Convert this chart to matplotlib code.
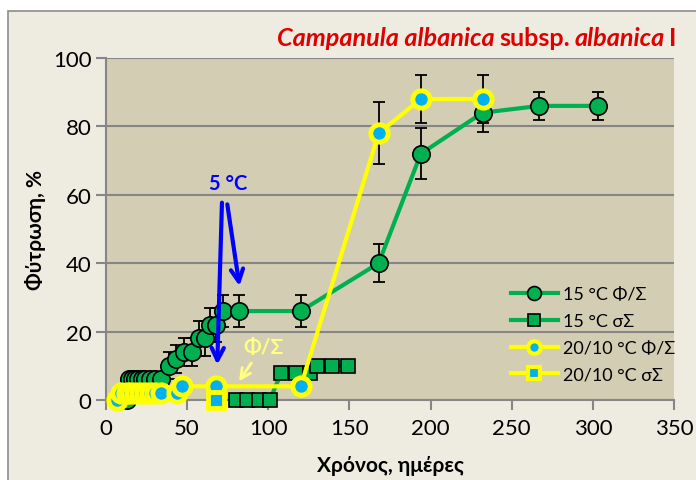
import matplotlib
matplotlib.use('Agg')
import matplotlib.pyplot as plt
from matplotlib.patches import Rectangle
from matplotlib.lines import Line2D

plt.rcParams['font.family'] = ['Lato', 'Noto Sans', 'DejaVu Sans']

# 15 °C, germination (Φ/Σ)
g15_days = [13, 14, 16, 18, 20, 22, 24, 27, 30, 34, 39, 43, 48, 53, 57, 61, 64, 68, 72, 82, 120, 168, 194, 232, 267, 303]
g15_pct = [0, 6, 6, 6, 6, 6, 6, 6, 6, 6, 10, 12, 14, 14, 18, 18, 22, 22, 26, 26, 26, 40, 72, 84, 86, 86]
g15_err = [0, 0, 0, 0, 0, 0, 0, 0, 0, 0, 4, 4, 4, 4, 5, 5, 5, 5, 4.7, 4.7, 4.7, 5.5, 7.5, 5.5, 4, 4]

# 15 °C, σΣ
s15_days = [80, 87, 94, 101, 108, 117, 126, 130, 139, 149]
s15_pct = [0, 0, 0, 0, 8, 8, 8, 10, 10, 10]

# 20/10 °C, germination (Φ/Σ)
g20_days = [7, 9, 13, 15, 18, 21, 24, 27, 30, 34, 44, 47, 68, 120, 168, 194, 232]
g20_pct = [0, 2, 2, 2, 2, 2, 2, 2, 2, 2, 2, 4, 4, 4, 78, 88, 88]
g20_err = [0, 0, 0, 0, 0, 0, 0, 0, 0, 0, 0, 0, 0, 0, 9, 7, 7]

# 20/10 °C, σΣ
s20_days = [68]
s20_pct = [0]

GREEN = '#00B050'
YELLOW = '#FFFF00'
BLUE = '#00B0F0'

W, H = 696, 481
fig = plt.figure(figsize=(W / 100, H / 100), dpi=100)
fig.patch.set_facecolor('white')
fig.patches.append(Rectangle((8 / W, -0.01), 1.0, (H - 12) / H + 0.01, transform=fig.transFigure,
                             facecolor='#EEECE1', edgecolor='#8C8C8C', lw=1.2, zorder=-10))

ax = fig.add_axes([106 / W, 1 - 401 / H, (674 - 106) / W, (401 - 59) / H])
ax.set_facecolor('#D3CDB4')
ax.set_xlim(0, 350)
ax.set_ylim(0, 100)
ax.set_xticks(range(0, 351, 50))
ax.set_yticks(range(0, 101, 20))
ax.grid(axis='y', color='#868686', lw=1.5, zorder=0)
ax.set_axisbelow(True)
for s in ['top', 'right']:
    ax.spines[s].set_visible(False)
for s in ['left', 'bottom']:
    ax.spines[s].set_color('#868686')
    ax.spines[s].set_linewidth(1.5)
ax.tick_params(colors='#868686', length=7, width=1.5, labelsize=16, labelcolor='black')
ax.tick_params(axis='x', pad=6)

# error bars below the markers
ax.errorbar(g15_days, g15_pct, yerr=g15_err, fmt='none', ecolor='black', elinewidth=1.3,
            capsize=4.5, capthick=1.3, zorder=2)
ax.errorbar(g20_days, g20_pct, yerr=g20_err, fmt='none', ecolor='black', elinewidth=1.3,
            capsize=4.5, capthick=1.3, zorder=2)

ax.plot(g15_days, g15_pct, color=GREEN, lw=3, marker='o', ms=12.5, mfc=GREEN, mec='black', mew=1.2,
        zorder=3, clip_on=False)
ax.plot(s15_days, s15_pct, color=GREEN, lw=3, marker='s', ms=10.5, mfc=GREEN, mec='black', mew=1.2,
        zorder=3, clip_on=False)
ax.plot(g20_days, g20_pct, color=YELLOW, lw=3, marker='o', ms=12.5, mfc=BLUE, mec=YELLOW, mew=3.5,
        zorder=4, clip_on=False)
ax.plot(s20_days, s20_pct, color=YELLOW, lw=3, marker='s', ms=11, mfc=BLUE, mec=YELLOW, mew=3.5,
        zorder=4, clip_on=False)

# annotations
ax.text(75, 63.5, '5 °C', color='#0000FF', fontsize=14.5, fontweight='bold', ha='center', va='center', zorder=6)
arrow_kw = dict(arrowstyle='->', color='#0000FF', lw=3, mutation_scale=22)
ax.annotate('', xy=(68.5, 9.5), xytext=(71.5, 58.5), arrowprops=arrow_kw, zorder=6)
ax.annotate('', xy=(82.5, 32.5), xytext=(74.5, 58), arrowprops=arrow_kw, zorder=6)
ax.text(97, 15.5, 'Φ/Σ', color='#FFFF80', fontsize=15, fontweight='bold', ha='center', va='center', zorder=6)
ax.annotate('', xy=(81, 4.8), xytext=(90.5, 11.5),
            arrowprops=dict(arrowstyle='->', color='#FFFF80', lw=2, mutation_scale=18), zorder=6)

ax.set_xlabel('Χρόνος, ημέρες', fontsize=15, fontweight='bold', va='center')
ax.set_ylabel('Φύτρωση, %', fontsize=15, fontweight='bold', va='center')
ax.xaxis.set_label_coords(0.5, (401 - 466) / 342)
ax.yaxis.set_label_coords((36 - 106) / 568, 0.5)

# legend
handles = [
    Line2D([], [], color=GREEN, lw=3, marker='o', ms=10, mfc=GREEN, mec='black', mew=1.2),
    Line2D([], [], color=GREEN, lw=3, marker='s', ms=9, mfc=GREEN, mec='black', mew=1.2),
    Line2D([], [], color=YELLOW, lw=3, marker='o', ms=9, mfc=BLUE, mec=YELLOW, mew=3),
    Line2D([], [], color=YELLOW, lw=3, marker='s', ms=8.5, mfc=BLUE, mec=YELLOW, mew=3),
]
labels = ['15 °C Φ/Σ', '15 °C σΣ', '20/10 °C Φ/Σ', '20/10 °C σΣ']
ax.legend(handles, labels, loc='center left', bbox_to_anchor=(511 / W, 1 - 335.5 / H),
          bbox_transform=fig.transFigure, frameon=False, fontsize=13, handlelength=2.6,
          handletextpad=0.3, labelspacing=0.6, borderpad=0, borderaxespad=0)

# title with mixed italic pieces
pieces = [('Campanula albanica', 'italic'), ('subsp.', 'normal'), ('albanica', 'italic'), ('I', 'normal')]
renderer = fig.canvas.get_renderer()
x = 277
for txt, style in pieces:
    t = fig.text(x / W, 1 - 39 / H, txt, color='#E00000', fontsize=18.2, fontweight='bold',
                 fontstyle=style, va='center', ha='left')
    bb = t.get_window_extent(renderer)
    x = bb.x1 + 4.5

fig.savefig('out.png', dpi=100, facecolor=fig.get_facecolor())
